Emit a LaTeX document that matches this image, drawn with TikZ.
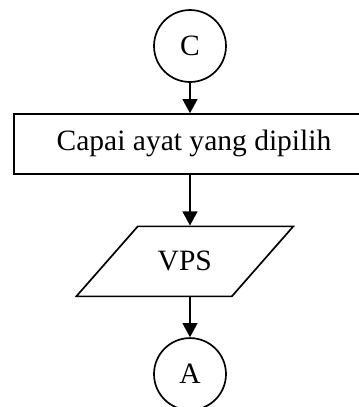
\documentclass[tikz,border=0pt]{standalone}
\usepackage{fontspec}
\setmainfont{Liberation Serif}
\usetikzlibrary{arrows.meta,positioning,shapes.geometric}

\begin{document}
\begin{tikzpicture}[
  line width=1.2pt,
  font=\fontsize{21}{25}\selectfont,
  conn/.style = {
    circle, draw, minimum size=1.8cm, inner sep=0pt
  },
  procbox/.style = {
    rectangle, draw, minimum width=9.0cm,
    minimum height=1.49cm, inner sep=0pt
  },
  iobox/.style = {
    trapezium, draw, trapezium left angle=52, trapezium right angle=128,
    trapezium stretches=true, minimum width=5.45cm,
    minimum height=1.75cm, inner xsep=0pt, inner ysep=9pt
  },
  arr/.style = {-{Triangle[length=10pt,width=10.5pt]}}
]
  \useasboundingbox (0,0) rectangle (8.975,-10.175);
  \clip (0,0) rectangle (8.975,-10.175);

  \node[conn] (conC) at (4.75,-1.15) {C};
  \node[procbox, below=0.76cm of conC, xshift=0.1cm] (capai) {Capai ayat yang dipilih};
  \node[iobox, below=1.275cm of conC.south |- capai.south, xshift=-0.13cm] (vps) {VPS};
  \node[conn, below=1.0cm of vps, xshift=0.13cm] (conA) {A};

  \draw[arr] (conC) -- (conC |- capai.north);
  \draw[arr] (conC |- capai.south) -- (conC |- vps.north);
  \draw[arr] (conA.north |- vps.south) -- (conA);
\end{tikzpicture}
\end{document}
